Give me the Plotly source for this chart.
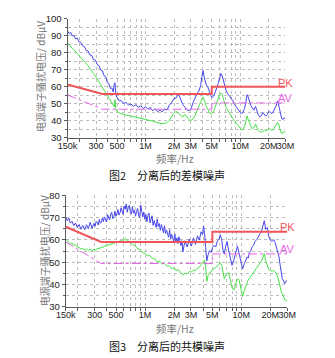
import plotly.graph_objects as go
import math

# ---------------- data ----------------
freq_mhz = [
    0.150, 0.156, 0.162, 0.168, 0.175, 0.182, 0.190, 0.198, 0.207, 0.216,
    0.226, 0.236, 0.247, 0.258, 0.270, 0.282, 0.295, 0.308, 0.322, 0.336,
    0.350, 0.365, 0.380, 0.395, 0.410, 0.425, 0.440, 0.455, 0.468, 0.476,
    0.484, 0.495, 0.510, 0.530, 0.555, 0.585, 0.620, 0.660, 0.700, 0.745,
    0.790, 0.840, 0.890, 0.945, 1.000, 1.060, 1.120, 1.190, 1.260, 1.340,
    1.420, 1.500, 1.590, 1.680, 1.780, 1.880, 1.990, 2.100, 2.220, 2.340,
    2.470, 2.600, 2.740, 2.880, 3.030, 3.180, 3.340, 3.500, 3.660, 3.820,
    3.950, 4.050, 4.150, 4.260, 4.380, 4.520, 4.680, 4.850, 5.030, 5.220,
    5.420, 5.630, 5.850, 6.050, 6.250, 6.450, 6.650, 6.870, 7.100, 7.400,
    7.700, 8.000, 8.350, 8.700, 9.100, 9.500, 9.900, 10.30, 10.70, 11.10,
    11.50, 11.80, 12.10, 12.50, 12.90, 13.40, 13.90, 14.50, 15.00, 15.50,
    16.10, 16.70, 17.30, 17.90, 18.60, 19.30, 20.00, 20.80, 21.60, 22.40,
    23.20, 24.00, 24.70, 25.30, 25.90, 26.60, 27.40, 28.20, 29.10, 30.00,
]

# Fig.2 differential-mode noise (dBuV)
dm_peak = [
    92.8, 91.2, 91.9, 89.8, 90.2, 88.1, 88.6, 86.4, 86.0, 84.1,
    83.6, 81.3, 81.0, 78.6, 78.4, 75.9, 75.6, 73.2, 72.4, 69.8,
    69.5, 66.4, 65.9, 62.3, 61.8, 58.9, 59.3, 57.0, 61.5, 62.3,
    56.0, 53.9, 53.2, 51.6, 51.9, 50.2, 50.8, 49.3, 49.9, 48.5,
    49.4, 47.9, 48.8, 47.2, 48.3, 46.8, 47.9, 45.9, 47.0, 45.3,
    46.4, 45.2, 46.9, 46.3, 49.2, 50.6, 53.0, 53.4, 56.0, 53.1,
    49.6, 48.0, 46.4, 45.9, 47.3, 50.8, 53.6, 56.0, 57.4, 60.8,
    66.5, 69.6, 66.0, 63.8, 61.0, 60.2, 57.0, 55.2, 53.6, 54.4,
    56.5, 58.9, 62.0, 64.8, 67.8, 66.4, 63.5, 60.4, 57.6, 55.8,
    54.6, 53.1, 51.8, 49.5, 48.0, 46.9, 45.2, 44.0, 45.1, 47.2,
    51.5, 55.3, 54.2, 51.3, 49.0, 47.6, 46.2, 48.4, 45.3, 43.6,
    42.3, 43.0, 44.9, 44.0, 42.7, 43.6, 45.4, 45.0, 44.2, 45.6,
    47.3, 49.0, 51.6, 50.2, 47.4, 43.6, 41.2, 40.7, 41.8, 40.9,
]
dm_avg = [
    85.6, 84.4, 83.5, 82.6, 81.6, 80.6, 79.7, 78.6, 77.3, 76.2,
    74.8, 73.6, 72.3, 70.6, 69.3, 67.8, 66.3, 64.6, 62.9, 61.0,
    59.6, 57.6, 56.2, 54.8, 53.6, 52.1, 50.6, 49.4, 48.2, 52.4,
    47.0, 45.8, 45.2, 44.6, 44.2, 43.7, 43.4, 43.1, 42.8, 42.5,
    42.2, 41.9, 41.6, 41.3, 41.0, 40.6, 40.2, 39.8, 39.3, 38.9,
    38.5, 38.3, 38.5, 38.9, 40.3, 42.4, 44.2, 45.6, 44.4, 42.8,
    42.2, 43.8, 42.0, 40.8, 40.2, 41.3, 43.2, 45.6, 48.8, 51.2,
    53.3, 53.8, 52.6, 50.1, 48.4, 46.9, 45.2, 44.0, 44.6, 45.4,
    47.8, 50.6, 53.2, 55.4, 56.3, 55.5, 52.6, 49.6, 47.8, 46.0,
    44.8, 43.0, 41.4, 39.6, 38.4, 37.3, 35.8, 34.5, 35.1, 36.6,
    40.1, 42.9, 41.0, 38.7, 37.0, 35.4, 35.9, 38.2, 35.8, 34.3,
    33.6, 33.3, 33.8, 34.5, 34.0, 34.6, 35.4, 35.0, 34.4, 35.0,
    36.4, 37.6, 39.0, 38.4, 36.0, 34.0, 32.6, 32.9, 33.6, 33.2,
]

# Fig.3 common-mode noise (dBuV): peak trace on its own (denser) frequency list
cm_peak_freq = [
    0.150, 0.156, 0.162, 0.168, 0.175, 0.182, 0.190, 0.198, 0.207, 0.216,
    0.226, 0.236, 0.247, 0.258, 0.270, 0.282, 0.295,
    0.303, 0.311, 0.319, 0.327, 0.335, 0.343, 0.352, 0.361, 0.370, 0.379,
    0.389, 0.399, 0.409, 0.419, 0.429, 0.440, 0.451, 0.462, 0.474, 0.486,
    0.498, 0.510, 0.523, 0.536, 0.550, 0.564, 0.578, 0.592, 0.607, 0.622,
    0.638, 0.654, 0.670, 0.687, 0.704, 0.722, 0.740, 0.758, 0.777, 0.797,
    0.817, 0.837, 0.858, 0.880, 0.902, 0.924, 0.947, 0.971, 0.995, 1.020,
    1.046, 1.072, 1.099, 1.126, 1.154, 1.183, 1.213, 1.243, 1.274, 1.306,
    1.339, 1.372, 1.407, 1.442, 1.478, 1.515, 1.553, 1.592, 1.631, 1.672,
    1.714, 1.757, 1.801, 1.846, 1.892, 1.939, 1.988, 2.037, 2.088, 2.141,
    2.194, 2.249, 2.305, 2.363, 2.422,
    2.470, 2.600, 2.740, 2.880, 3.030, 3.180, 3.340, 3.500, 3.660, 3.820,
    3.950, 4.050, 4.150, 4.260, 4.380, 4.520, 4.680, 4.850, 5.030, 5.220,
    5.420, 5.630, 5.850, 6.050, 6.250, 6.450, 6.650, 6.870, 7.100, 7.400,
    7.700, 8.000, 8.350, 8.700, 9.100, 9.500, 9.900, 10.30, 10.70, 11.10,
    11.50, 11.80, 12.10, 12.50, 12.90, 13.40, 13.90, 14.50, 15.00, 15.50,
    16.10, 16.70, 17.30, 17.90, 18.60, 19.30, 20.00, 20.80, 21.60, 22.40,
    23.20, 24.00, 24.70, 25.30, 25.90, 26.60, 27.40, 28.20, 29.10, 30.00,
]
cm_peak = [
    70.4, 68.6, 69.8, 67.5, 68.3, 66.4, 67.6, 65.5, 66.9, 64.8,
    66.5, 64.6, 66.8, 65.0, 67.9, 65.2, 67.4,
    66.1, 68.3, 67.9, 66.6, 69.2, 67.4, 67.9, 69.8, 68.2, 70.3,
    69.1, 68.0, 71.3, 70.2, 68.9, 71.6, 72.4, 69.5, 70.4, 72.9,
    70.6, 71.5, 73.6, 71.1, 72.2, 74.4, 72.7, 71.4, 75.2, 73.8,
    76.1, 72.4, 74.6, 75.5, 72.3, 71.6, 74.9, 72.0, 73.4, 70.6,
    72.8, 74.1, 71.0, 69.9, 75.6, 72.4, 70.3, 72.5, 69.2, 71.4,
    68.1, 70.9, 72.0, 67.6, 69.0, 70.8, 66.5, 68.7, 67.2, 65.6,
    69.4, 66.0, 67.3, 64.3, 66.9, 65.1, 63.2, 66.4, 62.8, 64.4,
    62.1, 61.2, 64.6, 60.5, 62.4, 61.1, 59.2, 62.7, 59.0, 60.9,
    58.3, 61.4, 58.6, 57.4, 59.6,
    54.6, 59.6, 56.8, 60.4, 57.2, 60.9, 58.0, 61.8, 59.9, 63.6,
    62.4, 66.2, 62.8, 56.5, 50.6, 53.4, 55.2, 54.4, 56.6, 57.5,
    56.8, 59.4, 60.2, 62.3, 60.0, 55.4, 53.6, 57.2, 59.3, 55.0,
    50.8, 48.6, 50.9, 54.6, 57.2, 53.8, 49.6, 46.9, 49.2, 51.0,
    52.4, 51.8, 54.2, 55.0, 56.8, 57.6, 59.4, 60.2, 61.5, 62.6,
    63.4, 66.0, 68.6, 64.8, 65.5, 61.4, 59.8, 59.2, 60.1, 58.9,
    56.4, 54.3, 52.0, 48.6, 45.8, 42.6, 41.6, 40.4, 41.5, 41.7,
]
cm_avg = [
    60.6, 59.4, 58.8, 58.2, 58.6, 57.6, 57.9, 56.8, 56.5, 55.8,
    56.3, 55.3, 55.9, 55.2, 56.0, 55.1, 55.9, 55.4, 56.4, 55.9,
    57.0, 56.5, 57.4, 57.0, 58.0, 57.5, 58.3, 57.9, 58.8, 58.3,
    59.1, 58.6, 59.4, 59.0, 59.8, 59.4, 60.7, 59.5, 59.2, 57.8,
    57.4, 56.0, 55.6, 54.2, 54.0, 52.8, 53.0, 51.6, 51.5, 50.2,
    50.4, 49.2, 49.5, 48.3, 48.4, 47.2, 47.4, 46.4, 46.6, 45.2,
    44.2, 45.0, 44.8, 45.8, 45.6, 46.4, 46.3, 47.2, 47.8, 48.9,
    49.8, 50.6, 51.0, 47.6, 41.4, 44.0, 45.3, 46.0, 46.4, 47.3,
    47.6, 48.2, 48.8, 49.6, 48.6, 46.0, 42.6, 44.2, 45.0, 45.2,
    41.6, 38.6, 37.5, 40.2, 42.6, 41.8, 38.7, 34.6, 37.2, 39.6,
    41.0, 42.0, 42.7, 43.6, 44.6, 45.8, 46.8, 47.9, 48.6, 49.4,
    50.3, 51.9, 53.8, 50.6, 48.0, 46.6, 46.2, 46.0, 46.3, 45.6,
    44.8, 42.9, 40.5, 38.6, 37.0, 35.9, 34.4, 33.2, 32.8, 32.5,
]

# limit lines (PK / AV)
limit_f = [0.15, 0.35, 5.0, 5.0, 30.0]
dm_pk_limit = [61.3, 55.8, 55.8, 60.0, 60.0]
dm_av_limit = [55.2, 46.8, 46.8, 50.5, 50.5]
cm_pk_limit = [65.9, 59.1, 59.1, 63.7, 63.7]
cm_av_limit = [59.1, 49.4, 49.4, 53.7, 53.7]

x_tickvals = [0.15, 0.2, 0.3, 0.4, 0.5, 0.6, 0.7, 0.8, 0.9, 1, 2, 3, 4, 5, 6, 7, 8, 9, 10, 20, 30]
x_ticktext = ["150k", "", "300", "", "500", "", "", "", "", "1M", "2M", "3M", "", "5M", "", "", "", "", "10M", "20M", "30M"]

# ---------------- styles ----------------
BLUE = "rgb(70,70,235)"
GREEN = "rgb(70,225,70)"
RED = "rgb(240,85,90)"
MAG = "rgb(232,100,232)"
GRID = "rgb(190,190,190)"
AXIS = "rgb(90,90,90)"
FONT = "Liberation Sans, Arial, sans-serif"
CJK = "Noto Sans CJK SC"

W, H = 335, 358

fig = go.Figure()

def add_panel(xa, ya, pf, peak, af, avg, pk, av):
    fig.add_trace(go.Scatter(x=pf, y=peak, mode="lines", xaxis=xa, yaxis=ya,
                             line=dict(color=BLUE, width=1), showlegend=False))
    fig.add_trace(go.Scatter(x=af, y=avg, mode="lines", xaxis=xa, yaxis=ya,
                             line=dict(color=GREEN, width=1), showlegend=False))
    fig.add_trace(go.Scatter(x=limit_f, y=pk, mode="lines", xaxis=xa, yaxis=ya,
                             line=dict(color=RED, width=2), showlegend=False))
    fig.add_trace(go.Scatter(x=limit_f, y=av, mode="lines", xaxis=xa, yaxis=ya,
                             line=dict(color=MAG, width=1, dash="dashdot"), showlegend=False))

add_panel("x", "y", freq_mhz, dm_peak, freq_mhz, dm_avg, dm_pk_limit, dm_av_limit)
add_panel("x2", "y2", cm_peak_freq, cm_peak, freq_mhz, cm_avg, cm_pk_limit, cm_av_limit)

def xaxis_cfg(domain, anchor):
    return dict(
        type="log", domain=domain, anchor=anchor,
        range=[math.log10(0.15), math.log10(30)],
        tickvals=x_tickvals, ticktext=x_ticktext, tickangle=0,
        ticks="outside", ticklen=3, tickcolor=AXIS, tickwidth=1,
        ticklabelstandoff=-4,
        showline=True, linecolor=AXIS, linewidth=1,
        showgrid=True, gridcolor=GRID, griddash="dot", gridwidth=1,
        tickfont=dict(family=FONT, size=9, color="#222"),
        zeroline=False, fixedrange=True,
    )

def yaxis_cfg(domain, anchor, lo, hi):
    return dict(
        domain=domain, anchor=anchor, range=[lo, hi],
        tickvals=list(range(lo, hi + 1, 10)),
        ticks="outside", ticklen=3, tickcolor=AXIS, tickwidth=1,
        minor=dict(dtick=5, tick0=lo, ticks="outside", ticklen=2, tickcolor=AXIS,
                   showgrid=True, gridcolor=GRID, griddash="dot"),
        showline=True, linecolor=AXIS, linewidth=1,
        showgrid=True, gridcolor=GRID, griddash="dot", gridwidth=1,
        tickfont=dict(family=FONT, size=9.5, color="#222"),
        zeroline=False, fixedrange=True,
    )

fig.update_layout(
    width=W, height=H,
    margin=dict(l=0, r=0, t=0, b=0),
    paper_bgcolor="white", plot_bgcolor="white",
    xaxis=xaxis_cfg([61 / W, 292 / W], "y"),
    yaxis=yaxis_cfg([1 - 136 / H, 1 - 13 / H], "x", 30, 100),
    xaxis2=xaxis_cfg([59 / W, 294 / W], "y2"),
    yaxis2=yaxis_cfg([1 - 310.3 / H, 1 - 195.3 / H], "x2", 30, 80),
)

def note(text, x, y, font, xref="paper", yref="paper", angle=0):
    return dict(text=text, xref=xref, yref=yref, x=x, y=y, textangle=angle,
                xanchor="center", yanchor="middle", showarrow=False, font=font)

ann = []
ytitle = "电源端子骚扰电压/ dBμV"
tfont = dict(family=CJK, size=10, color="#777")
ann.append(note(ytitle, 33 / W, 1 - 73 / H, tfont, angle=-90))
ann.append(note(ytitle, 36 / W, 1 - 252 / H, tfont, angle=-90))
xfont = dict(family=CJK, size=10.5, color="#777")
ann.append(note("频率/Hz", 175 / W, 1 - 157 / H, xfont))
ann.append(note("频率/Hz", 175 / W, 1 - 332.5 / H, xfont))
cfont = dict(family=CJK, size=11, color="#111")
ann.append(note("图2　分离后的差模噪声", 166 / W, 1 - 174 / H, cfont))
ann.append(note("图3　分离后的共模噪声", 166 / W, 1 - 350.5 / H, cfont))
# PK / AV labels
ann.append(note("PK", math.log10(30), 62.4, dict(family=FONT, size=11, color=RED), "x", "y"))
ann.append(note("AV", math.log10(30), 53.3, dict(family=FONT, size=11, color=MAG), "x", "y"))
ann.append(note("PK", math.log10(30), 65.8, dict(family=FONT, size=11, color=RED), "x2", "y2"))
ann.append(note("AV", math.log10(30), 55.7, dict(family=FONT, size=11, color=MAG), "x2", "y2"))
fig.update_layout(annotations=ann)

fig.write_html("out.html")
